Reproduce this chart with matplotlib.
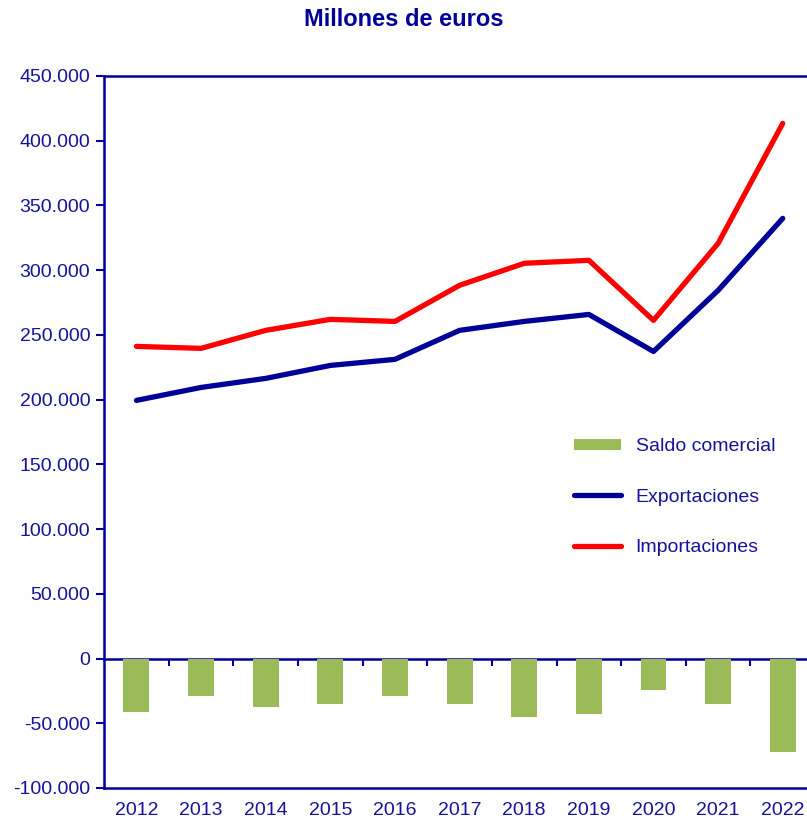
import matplotlib.pyplot as plt
from matplotlib.ticker import FuncFormatter
import numpy as np

years = ['2012', '2013', '2014', '2015', '2016', '2017', '2018', '2019', '2020', '2021', '2022']
exportaciones = [199400, 209400, 216400, 226400, 231100, 253500, 260400, 265800, 237200, 284400, 340000]
importaciones = [241100, 239600, 253500, 262000, 260400, 288300, 305300, 307600, 261200, 320700, 413400]
saldo = [-41000, -28600, -37100, -34800, -28600, -34800, -44800, -42500, -24000, -35500, -71900]

navy = '#000099'
text_col = '#14149a'

plt.rcParams['font.family'] = ['Liberation Sans', 'DejaVu Sans']

fig = plt.figure(figsize=(8.07, 8.24), dpi=100)
ax = fig.add_axes([0.129, 0.0437, 0.881, 0.8641])

x = np.arange(len(years))
bars = ax.bar(x, saldo, width=0.4, color='#9BBB59', label='Saldo comercial', zorder=2)
l_exp, = ax.plot(x, exportaciones, color=navy, lw=3.8, solid_capstyle='round', label='Exportaciones', zorder=3)
l_imp, = ax.plot(x, importaciones, color='#FF0000', lw=3.8, solid_capstyle='round', label='Importaciones', zorder=3)

ax.set_xlim(-0.5, len(years) - 0.5)
ax.set_ylim(-100000, 450000)
ax.set_yticks(np.arange(-100000, 450001, 50000))
ax.yaxis.set_major_formatter(FuncFormatter(lambda v, p: f'{int(v):,}'.replace(',', '.')))
ax.tick_params(axis='y', direction='out', length=6, width=1.5, color=navy,
               labelcolor=text_col, labelsize=14, pad=4)
ax.set_xticks(x)
ax.set_xticklabels(years)
ax.tick_params(axis='x', length=0, labelcolor=text_col, labelsize=14, pad=10)

for s in ['left', 'top', 'bottom', 'right']:
    ax.spines[s].set_color(navy)
    ax.spines[s].set_linewidth(1.8)

# zero line with category separators
zero_frac = 100000 / 550000
sec = ax.secondary_xaxis(zero_frac)
sec.set_xticks(x[:-1] + 0.5)
sec.tick_params(direction='out', length=5, width=1.5, color=navy, labelbottom=False, labeltop=False)
sec.spines['bottom'].set_color(navy)
sec.spines['bottom'].set_linewidth(1.8)
sec.spines['top'].set_visible(False)
sec.xaxis.set_ticks_position('bottom')
sec.set_xticklabels([])

fig.text(0.5, 0.976, 'Millones de euros', ha='center', va='center',
         fontsize=17, fontweight='bold', color=navy)

leg = ax.legend([bars, l_exp, l_imp], ['Saldo comercial', 'Exportaciones', 'Importaciones'],
                loc='upper left', bbox_to_anchor=(0.637, 0.516), frameon=False,
                fontsize=14, labelcolor=text_col, handlelength=2.4,
                handleheight=0.5, labelspacing=1.72, handletextpad=0.75)

plt.savefig('out.png', dpi=100)
